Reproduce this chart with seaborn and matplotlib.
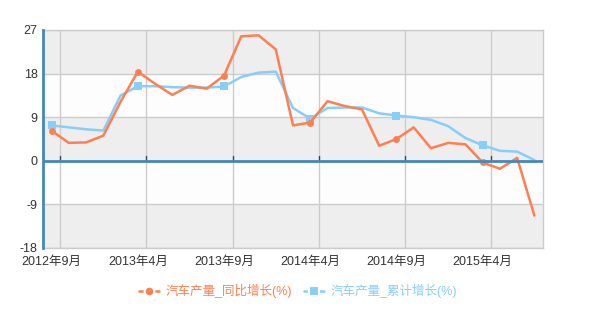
import numpy as np
import pandas as pd
import matplotlib
matplotlib.use("Agg")
import matplotlib.pyplot as plt
from matplotlib.lines import Line2D
import seaborn as sns

months = ["2012年9月", "2012年10月", "2012年11月", "2012年12月",
          "2013年3月", "2013年4月", "2013年5月", "2013年6月", "2013年7月", "2013年8月",
          "2013年9月", "2013年10月", "2013年11月", "2013年12月",
          "2014年3月", "2014年4月", "2014年5月", "2014年6月", "2014年7月", "2014年8月",
          "2014年9月", "2014年10月", "2014年11月", "2014年12月",
          "2015年3月", "2015年4月", "2015年5月", "2015年6月", "2015年7月"]
yoy = [6.2, 3.7, 3.8, 5.2, 12.2, 18.4, 15.9, 13.6, 15.5, 14.9,
       17.6, 25.7, 25.9, 23.0, 7.3, 7.9, 12.3, 11.3, 10.6, 3.1,
       4.5, 6.9, 2.6, 3.7, 3.4, -0.35, -1.65, 0.6, -11.3]
cum = [7.3, 6.9, 6.5, 6.25, 13.5, 15.4, 15.4, 15.2, 15.1, 15.1,
       15.35, 17.3, 18.2, 18.4, 10.9, 8.7, 10.9, 11.0, 11.0, 9.8,
       9.35, 9.0, 8.45, 7.15, 4.7, 3.2, 2.06, 1.9, 0.15]
series_names = ["汽车产量_同比增长(%)", "汽车产量_累计增长(%)"]
colors = ["#ff7f50", "#87cefa"]
yticks = [27, 18, 9, 0, -9, -18]
label_every = 5

sns.set_style("white")
plt.rcParams['font.family'] = ['Liberation Sans', 'Noto Sans CJK SC', 'DejaVu Sans']

df = pd.DataFrame({"idx": np.arange(len(months)), "yoy": yoy, "cum": cum})

fig = plt.figure(figsize=(5.96, 3.27), dpi=100)
ax = fig.add_axes([43 / 596, 1 - 248 / 327, 500 / 596, 218 / 327])

# background bands
band_cols = ["#eeeeee", "#fdfdfd"]
for i in range(len(yticks) - 1):
    ax.axhspan(yticks[i + 1], yticks[i], color=band_cols[i % 2], zorder=0, lw=0)

ax.set_xlim(-0.5, len(months) - 0.5)
ax.set_ylim(min(yticks), max(yticks))

# grid lines
for y in yticks:
    ax.axhline(y, color="#cccccc", lw=1, zorder=1)
grid_x = [i + 0.5 for i in range(0, len(months), label_every)]
for gx in grid_x:
    ax.axvline(gx, color="#cccccc", lw=1, zorder=1)

# small ticks on zero axis
for gx in grid_x:
    ax.plot([gx, gx], [0, 1.0], color="#444444", lw=1, zorder=3)

sns.lineplot(data=df, x="idx", y="cum", ax=ax, color=colors[1], lw=1.8,
             marker="s", markersize=5.5, markevery=label_every,
             markeredgewidth=0, zorder=4)
sns.lineplot(data=df, x="idx", y="yoy", ax=ax, color=colors[0], lw=1.8,
             marker="o", markersize=5, markevery=label_every,
             markeredgewidth=0, zorder=5)

ax.axhline(0, color="#4488bb", lw=2, zorder=6)

ax.set_yticks(yticks)
ax.set_yticklabels([str(v) for v in yticks], fontsize=9, color="#333333")
ax.set_xticks(list(range(0, len(months), label_every)))
ax.set_xticklabels([months[i] for i in range(0, len(months), label_every)],
                   fontsize=9, color="#333333")
ax.tick_params(axis="both", length=0, pad=4)
ax.tick_params(axis="x", pad=6)
ax.set_xlabel("")
ax.set_ylabel("")

for s in ["top", "right", "bottom"]:
    ax.spines[s].set_color("#cccccc")
    ax.spines[s].set_linewidth(1)
ax.spines["left"].set_color("#4488bb")
ax.spines["left"].set_linewidth(2)
ax.spines["left"].set_zorder(7)

handles = [
    Line2D([], [], color=colors[0], lw=1.8, marker="o", markersize=7,
           markeredgecolor="white", markeredgewidth=1.5),
    Line2D([], [], color=colors[1], lw=1.8, marker="s", markersize=7,
           markeredgecolor="white", markeredgewidth=1.5),
]
fig.legend(handles, series_names, loc="center", bbox_to_anchor=(0.5, 1 - 291 / 327),
           ncol=2, frameon=False, fontsize=9, labelcolor=colors,
           handlelength=1.6, handletextpad=0.5, columnspacing=1.0)

fig.savefig("out.png", dpi=100)
